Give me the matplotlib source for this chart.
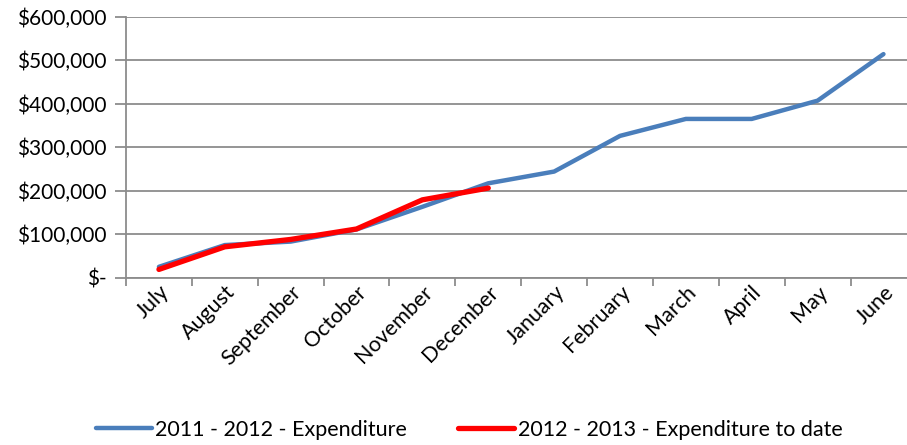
import numpy as np
import matplotlib.pyplot as plt
from matplotlib.ticker import FuncFormatter, FixedLocator

plt.rcParams['font.family'] = ['Lato', 'DejaVu Sans']

months = ['July', 'August', 'September', 'October', 'November', 'December',
          'January', 'February', 'March', 'April', 'May', 'June']
exp_2011_2012 = [25000, 75000, 83000, 111000, 163000, 217000,
                 244000, 326000, 365000, 365000, 407000, 514000]
exp_2012_2013 = [19000, 71000, 88000, 112000, 179000, 206000]

fig = plt.figure(figsize=(9.07, 4.45), dpi=100)
ax = fig.add_axes([126 / 907, 1 - 277.7 / 445, 790.4 / 907, 261 / 445])

x = np.arange(len(months))
ax.plot(x, exp_2011_2012, color='#4A7EBB', lw=3.2, solid_capstyle='round',
        label='2011 - 2012 - Expenditure', zorder=3)
ax.plot(x[:len(exp_2012_2013)], exp_2012_2013, color='#FF0000', lw=3.8,
        solid_capstyle='round', label='2012 - 2013 - Expenditure to date', zorder=4)

ax.set_xlim(-0.5, 11.5)
ax.set_ylim(0, 600000)
ax.set_yticks(np.arange(0, 600001, 100000))
ax.yaxis.set_major_formatter(FuncFormatter(
    lambda v, p: '$-' if v == 0 else '${:,.0f}'.format(v)))
ax.yaxis.grid(True, color='#8c8c8c', lw=1.3)
ax.set_axisbelow(True)

ax.set_xticks(x)
ax.set_xticklabels(months, rotation=45, ha='right', rotation_mode='anchor')
ax.xaxis.set_minor_locator(FixedLocator(np.arange(-0.5, 12, 1)))
ax.tick_params(axis='x', which='major', length=0, pad=3, labelsize=15.5)
ax.tick_params(axis='x', which='minor', length=6, width=1.3, color='#8c8c8c')
ax.tick_params(axis='y', length=8, width=1.3, color='#8c8c8c', labelsize=15, pad=6)

for s in ['top', 'right']:
    ax.spines[s].set_visible(False)
for s in ['left', 'bottom']:
    ax.spines[s].set_color('#8c8c8c')
    ax.spines[s].set_linewidth(1.3)

fig.legend(loc='center', bbox_to_anchor=(469 / 907, 1 - 430 / 445), ncol=2, frameon=False,
           fontsize=15.5, handlelength=2.6, handletextpad=0.15, columnspacing=2.4,
           borderpad=0)

fig.savefig('out.png', dpi=100)
